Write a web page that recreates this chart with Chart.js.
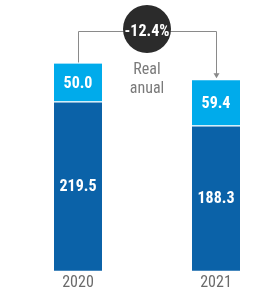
<!DOCTYPE html>
<html lang="es">
<head>
  <meta charset="UTF-8">
  <title>Real anual</title>
  <script src="https://cdn.jsdelivr.net/npm/chart.js"></script>
  <style>
    html, body { margin: 0; padding: 0; background: #ffffff; }
    #wrap { width: 278px; height: 288px; }
  </style>
</head>
<body>
  <div id="wrap"><canvas id="chart"></canvas></div>
  <script>
    const years = ["2020", "2021"];
    const lowerValues = [219.5, 188.3];
    const upperValues = [50.0, 59.4];
    const changeLabel = "-12.4%";
    const changeNote = ["Real", "anual"];

    const font = "'Liberation Sans Narrow', 'Roboto Condensed', Roboto, sans-serif";

    // white value text inside each segment
    const valueLabels = {
      id: "valueLabels",
      afterDatasetsDraw(chart) {
        const ctx = chart.ctx;
        ctx.save();
        ctx.fillStyle = "#ffffff";
        ctx.font = "bold 16px " + font;
        ctx.textAlign = "center";
        ctx.textBaseline = "middle";
        chart.data.datasets.forEach((ds, i) => {
          chart.getDatasetMeta(i).data.forEach((bar, j) => {
            const y = (bar.y + bar.base) / 2;
            ctx.fillText(ds.data[j].toFixed(1), bar.x, y + 1);
          });
        });
        ctx.restore();
      }
    };

    // connector from 2020 to 2021 with the change bubble
    const changeBubble = {
      id: "changeBubble",
      afterDraw(chart) {
        const ctx = chart.ctx;
        const top = chart.getDatasetMeta(1).data;
        const x0 = top[0].x, x1 = top[1].x;
        const lineY = 31;
        const cx = (x0 + x1) / 2, cy = 29, r = 24;
        ctx.save();
        ctx.strokeStyle = "#8a8a8a";
        ctx.lineWidth = 1;
        ctx.beginPath();
        ctx.moveTo(x0 + 0.5, top[0].y - 1);
        ctx.lineTo(x0 + 0.5, lineY + 0.5);
        ctx.lineTo(x1 + 0.5, lineY + 0.5);
        ctx.lineTo(x1 + 0.5, top[1].y - 3);
        ctx.stroke();
        ctx.fillStyle = "#8a8a8a";
        ctx.beginPath();
        ctx.moveTo(x1 - 2.5, top[1].y - 7);
        ctx.lineTo(x1 + 3.5, top[1].y - 7);
        ctx.lineTo(x1 + 0.5, top[1].y - 2);
        ctx.closePath();
        ctx.fill();

        ctx.fillStyle = "#2b2b2b";
        ctx.beginPath();
        ctx.arc(cx, cy, r, 0, Math.PI * 2);
        ctx.fill();
        ctx.fillStyle = "#ffffff";
        ctx.font = "bold 16px " + font;
        ctx.textAlign = "center";
        ctx.textBaseline = "middle";
        ctx.fillText(changeLabel, cx, cy + 3);

        ctx.fillStyle = "#7a7a7a";
        ctx.font = "16px " + font;
        ctx.fillText(changeNote[0], cx, 70);
        ctx.fillText(changeNote[1], cx, 89);
        ctx.restore();
      }
    };

    new Chart(document.getElementById("chart"), {
      type: "bar",
      data: {
        labels: years,
        datasets: [
          {
            data: lowerValues,
            backgroundColor: "#0b62a8",
            borderColor: "#ffffff",
            borderWidth: { top: 1, left: 0, right: 0, bottom: 0 },
            borderSkipped: false,
            barThickness: 48,
            clip: false
          },
          {
            data: upperValues,
            backgroundColor: "#00abeb",
            borderColor: "#ffffff",
            borderWidth: { bottom: 1, top: 0, left: 0, right: 0 },
            borderSkipped: false,
            barThickness: 48,
            clip: false
          }
        ]
      },
      options: {
        responsive: true,
        maintainAspectRatio: false,
        animation: false,
        layout: { padding: { left: 78, right: 62, top: 40, bottom: -8 } },
        plugins: { legend: { display: false }, tooltip: { enabled: false } },
        scales: {
          x: {
            stacked: true,
            offset: false,
            grid: { display: false, drawTicks: false },
            border: { display: false },
            ticks: { color: "#6a6a6a", font: { family: font, size: 16 }, padding: 3 }
          },
          y: {
            stacked: true,
            display: false,
            min: 0,
            max: 300
          }
        }
      },
      plugins: [valueLabels, changeBubble]
    });
  </script>
</body>
</html>
